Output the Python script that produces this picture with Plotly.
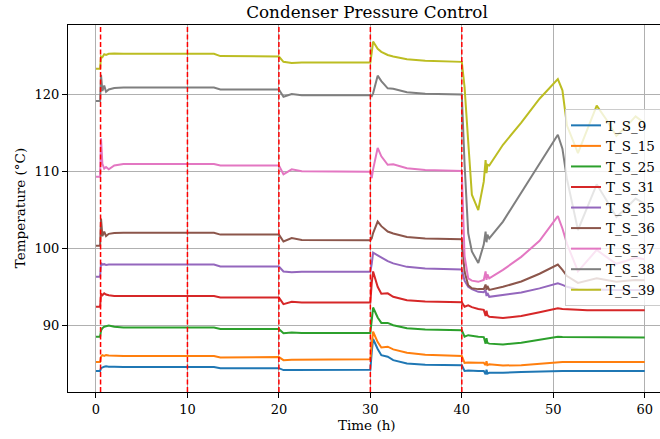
import plotly.graph_objects as go

time_h = [0, 0.45, 0.55, 0.7, 0.9, 1.1, 1.4, 2.0, 3.0, 12.9, 13.6, 20.0, 20.5, 21.4, 22.5,
          30.0, 30.15, 30.3, 30.8, 31.2, 31.9, 32.5, 34.0, 36.0, 40.0, 40.3, 40.7, 41.1, 41.8,
          42.4, 42.6, 42.7, 42.8, 43.0, 44.5, 46.5, 48.5, 50.5, 51.0, 51.5, 52.7, 53.7, 54.75,
          55.8, 56.9, 58.0, 59.0, 60.0]

T_S_9 = [84.05, 84.05, 84.4, 84.5, 84.6, 84.65, 84.6, 84.6, 84.55, 84.55, 84.4, 84.4, 84.15, 84.15, 84.15,
         84.2, 86.5, 88.2, 86.9, 86.1, 85.9, 85.45, 85.0, 84.85, 84.8, 84.05, 84.1, 84.05, 84.05,
         84.05, 83.6, 84.2, 83.7, 83.8, 83.8, 83.9, 84.0,
         84.05, 84.05, 84.05, 84.05, 84.05, 84.05, 84.05, 84.05, 84.05, 84.05, 84.05]
T_S_15 = [85.2, 85.2, 85.9, 86.1, 86.0, 86.1, 86.05, 86.0, 86.0, 86.0, 85.8, 85.85, 85.45, 85.5, 85.5,
          85.55, 87.5, 89.15, 87.8, 87.1, 87.2, 86.85, 86.4, 86.15, 86.0, 85.1, 85.15, 85.1, 85.1,
          85.1, 84.8, 85.3, 84.8, 84.9, 84.75, 84.8, 85.0,
          85.2, 85.2, 85.2, 85.2, 85.2, 85.2, 85.2, 85.2, 85.2, 85.2, 85.2]
T_S_25 = [88.5, 88.5, 89.3, 89.6, 89.8, 89.9, 89.95, 89.8, 89.7, 89.7, 89.5, 89.5, 88.95, 89.05, 89.0,
          89.0, 90.8, 92.3, 91.0, 90.3, 90.3, 90.0, 89.6, 89.45, 89.35, 88.5, 88.7, 88.6, 88.5,
          88.45, 87.6, 88.3, 87.7, 87.6, 87.5, 87.7, 88.1,
          88.5, 88.45, 88.45, 88.4, 88.4, 88.4, 88.4, 88.4, 88.4, 88.4, 88.4]
T_S_31 = [92.4, 92.4, 94.1, 93.9, 94.15, 94.0, 93.9, 93.8, 93.8, 93.8, 93.6, 93.6, 92.75, 93.05, 92.95,
          92.95, 95.5, 97.0, 95.0, 94.1, 94.15, 93.7, 93.25, 93.1, 93.0, 92.4, 92.6, 92.35, 92.1,
          92.0, 91.2, 91.9, 91.3, 91.1, 90.95, 91.2, 91.7,
          92.2, 92.1, 92.05, 92.0, 91.95, 91.95, 91.95, 91.95, 91.95, 91.95, 91.95]
T_S_35 = [96.3, 96.3, 98.1, 97.9, 97.95, 97.85, 97.9, 97.9, 97.9, 97.9, 97.65, 97.65, 97.0, 96.9, 96.95,
          96.95, 98.0, 99.45, 99.1, 98.8, 98.35, 98.05, 97.6, 97.4, 97.25, 95.8, 95.0, 94.7, 94.35,
          94.3, 94.6, 93.8, 94.2, 93.7, 93.9, 94.25, 94.8,
          95.45, 95.25, 95.0, 94.65, 94.6, 94.65, 94.6, 94.6, 94.6, 94.6, 94.6]
T_S_36 = [100.35, 100.35, 103.9, 101.6, 102.2, 101.6, 101.9, 102.0, 102.05, 102.05, 101.8, 101.8, 100.9, 101.35, 101.1,
          101.05, 101.3, 102.0, 103.5, 102.9, 102.2, 101.95, 101.5, 101.3, 101.2, 97.0, 95.2, 94.8, 94.7,
          94.7, 95.3, 94.6, 95.1, 94.6, 95.0, 95.7, 96.7,
          97.9, 97.2, 96.4, 95.5, 95.8, 96.1, 95.9, 95.65, 95.8, 95.9, 95.85]
T_S_37 = [109.35, 109.35, 114.35, 111.0, 110.4, 110.6, 110.3, 110.8, 111.0, 111.0, 110.8, 110.8, 109.65, 110.3, 110.05,
          110.0, 109.15, 110.3, 113.1, 112.0, 110.9, 110.95, 110.45, 110.2, 110.1, 99.0, 96.1, 95.8, 95.65,
          95.9, 97.0, 95.9, 96.6, 96.1, 97.2, 98.9, 101.0,
          104.2, 102.6, 100.6, 97.0, 98.4, 99.8, 98.9, 98.0, 98.4, 98.8, 98.6]
T_S_38 = [119.2, 119.2, 122.6, 120.5, 121.2, 120.4, 120.7, 120.9, 120.95, 120.95, 120.7, 120.7, 119.75, 120.1, 119.95,
          119.95, 119.85, 120.2, 122.5, 121.8, 120.85, 120.8, 120.35, 120.15, 120.05, 111.0, 102.0, 99.6, 98.1,
          100.5, 102.2, 100.8, 101.8, 101.3, 103.5, 107.3, 111.0,
          114.8, 113.0, 109.0, 102.4, 105.3, 108.35, 106.3, 104.1, 105.3, 106.5, 105.8]
T_S_39 = [123.4, 123.4, 125.0, 124.9, 125.3, 125.2, 125.35, 125.4, 125.35, 125.35, 125.05, 125.0, 124.3, 124.15, 124.2,
          124.2, 125.5, 126.95, 126.0, 125.6, 125.2, 125.0, 124.65, 124.45, 124.3, 121.0, 113.9, 107.0, 105.0,
          108.7, 111.5, 109.8, 110.9, 110.8, 113.5, 116.4, 119.5,
          122.05, 120.6, 116.0, 112.4, 115.3, 118.6, 116.8, 114.65, 115.9, 117.2, 116.3]

series_names = ["T_S_9", "T_S_15", "T_S_25", "T_S_31", "T_S_35", "T_S_36", "T_S_37", "T_S_38", "T_S_39"]
series_values = [T_S_9, T_S_15, T_S_25, T_S_31, T_S_35, T_S_36, T_S_37, T_S_38, T_S_39]
colors = ["#1f77b4", "#ff7f0e", "#2ca02c", "#d62728", "#9467bd", "#8c564b", "#e377c2", "#7f7f7f", "#bcbd22"]

event_times = [0.5, 10, 20, 30, 40]
x_ticks = [0, 10, 20, 30, 40, 50, 60]
y_ticks = [90, 100, 110, 120]

FONT = "DejaVu Serif"

fig = go.Figure()
for name, vals, col in zip(series_names, series_values, colors):
    fig.add_trace(go.Scatter(x=time_h, y=vals, mode="lines", name=name,
                             line=dict(color=col, width=2)))

for ev in event_times:
    fig.add_vline(x=ev, line=dict(color="red", width=1.5, dash="5px,2.5px"), layer="above")

L, T, B = 68, 25, 391.7
PW, PH = 660 - L, B - T

fig.update_layout(
    width=660, height=439,
    margin=dict(l=L, r=0, t=T, b=439 - B, autoexpand=False),
    plot_bgcolor="white", paper_bgcolor="white",
    font=dict(family=FONT, color="black", size=13),
    title=dict(text="Condenser Pressure Control", x=367/660, xref="container", xanchor="center",
               y=1 - 12/439, yref="container", yanchor="middle",
               font=dict(family=FONT, size=16.8, color="black")),
    showlegend=True,
    legend=dict(x=(565 - L)/PW, y=(B - 109)/PH, xanchor="left", yanchor="top",
                bgcolor="rgba(255,255,255,0.8)", bordercolor="#cccccc", borderwidth=1,
                font=dict(family=FONT, size=13.5, color="black"), tracegroupgap=0,
                entrywidth=110, entrywidthmode="pixels"),
    xaxis=dict(range=[-3.06, 61.67], tickvals=x_ticks, showgrid=True, gridcolor="#b0b0b0",
               gridwidth=0.8, zeroline=False, showline=True, linecolor="black", linewidth=1,
               mirror=True, ticks="outside", ticklen=5, tickcolor="black",
               tickfont=dict(family=FONT, size=13)),
    yaxis=dict(range=[81.3, 129.1], tickvals=y_ticks, showgrid=True, gridcolor="#b0b0b0",
               gridwidth=0.8, zeroline=False, showline=True, linecolor="black", linewidth=1,
               ticks="outside", ticklen=5, tickcolor="black",
               tickfont=dict(family=FONT, size=13)),
    annotations=[
        dict(text="Time (h)", x=(367 - L)/PW, y=-(425 - B)/PH, xref="paper", yref="paper",
             showarrow=False, font=dict(family=FONT, size=13.5), xanchor="center", yanchor="middle"),
        dict(text="Temperature (°C)", x=(20 - L)/PW, y=(B - 208)/PH, xref="paper", yref="paper",
             showarrow=False, font=dict(family=FONT, size=13.5), textangle=-90,
             xanchor="center", yanchor="middle"),
    ],
)

fig.write_html("out.html", config={"displayModeBar": False},
               post_script="document.body.style.margin='0';document.body.style.overflow='hidden';")
